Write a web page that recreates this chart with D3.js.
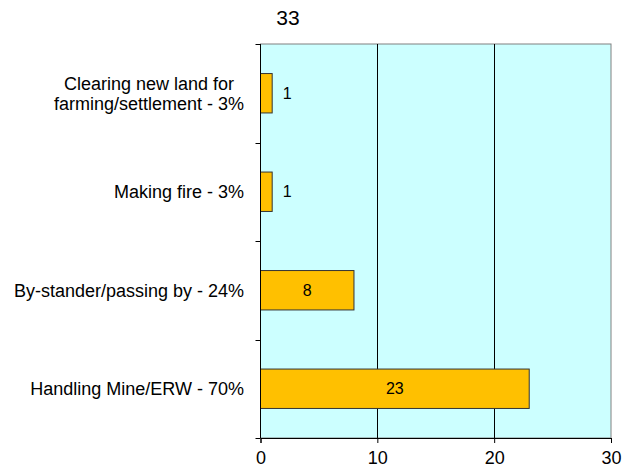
<!DOCTYPE html>
<html><head><meta charset="utf-8">
<script src="https://cdn.jsdelivr.net/npm/d3@7"></script>
<style>body{margin:0;background:#fff}svg{display:block}text{font-family:"Liberation Sans",Arial,sans-serif;fill:#000}</style>
</head><body>
<script>
const title = "33";
const categories = [["Clearing new land for","farming/settlement - 3%"],["Making fire - 3%"],["By-stander/passing by - 24%"],["Handling Mine/ERW - 70%"]];
const values = [1, 1, 8, 23];
const xTicks = [0, 10, 20, 30];

const W = 633, H = 468;
const m = {left: 260.5, right: 22, top: 44, bottom: 30};
const svg = d3.select("body").append("svg").attr("width", W).attr("height", H);
const x = d3.scaleLinear().domain([0, 30]).range([m.left, W - m.right]);
const y = d3.scaleBand().domain(d3.range(categories.length)).range([m.top, H - m.bottom]).paddingInner(0.6).paddingOuter(0.3);
const yb = d3.scaleBand().domain(d3.range(categories.length)).range([m.top, H - m.bottom]);

// plot background
svg.append("rect").attr("x", x(0)).attr("y", m.top).attr("width", x(30) - x(0)).attr("height", H - m.bottom - m.top)
  .attr("fill", "#CCFFFF").attr("stroke", "#808080").attr("stroke-width", 1);

// gridlines
svg.append("g").selectAll("line").data(xTicks.filter(d => d > 0 && d < 30)).join("line")
  .attr("x1", d => Math.round(x(d)) + 0.5).attr("x2", d => Math.round(x(d)) + 0.5)
  .attr("y1", m.top).attr("y2", H - m.bottom).attr("stroke", "#000").attr("stroke-width", 1);

// bars
svg.append("g").selectAll("rect").data(values).join("rect")
  .attr("x", x(0)).attr("y", (d, i) => y(i)).attr("width", d => x(d) - x(0)).attr("height", y.bandwidth())
  .attr("fill", "#FFC000").attr("stroke", "#333").attr("stroke-width", 1);

// value labels
svg.append("g").selectAll("text").data(values).join("text")
  .attr("x", d => (x(d) - x(0)) > 30 ? (x(0) + x(d)) / 2 : x(d) + 15)
  .attr("y", (d, i) => y(i) + y.bandwidth() / 2).attr("dy", "0.35em")
  .attr("text-anchor", "middle").style("font-size", "16px").text(d => d);

// x axis
const xAxis = svg.append("g").attr("transform", `translate(0,${H - m.bottom})`)
  .call(d3.axisBottom(x).tickValues(xTicks).tickSize(5).tickPadding(8));
xAxis.select(".domain").attr("stroke", "#000");
xAxis.selectAll("text").style("font-size", "18px").style("font-family", '"Liberation Sans",Arial,sans-serif');

// y axis line and ticks at band boundaries
svg.append("line").attr("x1", x(0)).attr("x2", x(0)).attr("y1", m.top).attr("y2", H - m.bottom).attr("stroke", "#000");
svg.append("g").selectAll("line").data(d3.range(categories.length + 1)).join("line")
  .attr("x1", x(0) - 5).attr("x2", x(0))
  .attr("y1", i => Math.round(m.top + i * yb.step()) + 0.5).attr("y2", i => Math.round(m.top + i * yb.step()) + 0.5)
  .attr("stroke", "#000");

// category labels (multi-line blocks are right-aligned, lines centred within the block)
const lh = 20, labelRight = 244;
svg.append("g").selectAll("text").data(categories).join("text")
  .attr("text-anchor", "middle").style("font-size", "18px")
  .each(function(lines, i) {
    const cy = yb(i) + yb.bandwidth() / 2;
    const t = d3.select(this);
    const spans = lines.map((ln, j) =>
      t.append("tspan").attr("y", cy + (j - (lines.length - 1) / 2) * lh).attr("dy", "0.35em").text(ln));
    const maxW = d3.max(spans, s => s.node().getComputedTextLength());
    spans.forEach(s => s.attr("x", labelRight - maxW / 2));
  });

// title
svg.append("text").attr("x", 288).attr("y", 18).attr("dy", "0.35em").attr("text-anchor", "middle").style("font-size", "21px").text(title);
</script>
</body></html>
